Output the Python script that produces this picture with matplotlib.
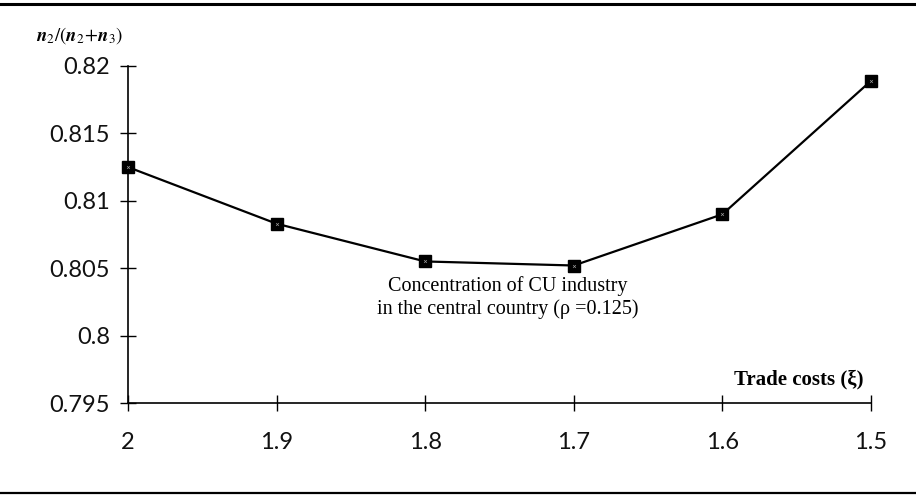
import matplotlib
matplotlib.use('Agg')
import matplotlib.pyplot as plt
from matplotlib.lines import Line2D

# Data
trade_costs = [2.0, 1.9, 1.8, 1.7, 1.6, 1.5]
share_n2 = [0.8125, 0.8083, 0.8055, 0.8052, 0.8090, 0.8189]
x_ticks = [2.0, 1.9, 1.8, 1.7, 1.6, 1.5]
x_tick_labels = ['2', '1.9', '1.8', '1.7', '1.6', '1.5']
y_ticks = [0.795, 0.8, 0.805, 0.81, 0.815, 0.82]
y_tick_labels = ['0.795', '0.8', '0.805', '0.81', '0.815', '0.82']

plt.rcParams['mathtext.fontset'] = 'stix'

fig = plt.figure(figsize=(9.16, 4.96), dpi=100)
ax = fig.add_axes([128 / 916, 1 - 403 / 496, (871 - 128) / 916, (403 - 66) / 496])

ax.plot(trade_costs, share_n2, color='black', linewidth=1.6, marker='s',
        markersize=8, markerfacecolor='black', markeredgecolor='black',
        zorder=3, clip_on=False)
# speckle inside the square markers
ax.plot(trade_costs, share_n2, linestyle='none', marker='x', markersize=2,
        markeredgecolor='#999999', markeredgewidth=0.5, zorder=4, clip_on=False)

ax.set_xlim(2.0, 1.5)
ax.set_ylim(0.795, 0.82)
ax.set_xticks(x_ticks)
ax.set_xticklabels(x_tick_labels)
ax.set_yticks(y_ticks)
ax.set_yticklabels(y_tick_labels)

for side in ('top', 'right'):
    ax.spines[side].set_visible(False)
for side in ('left', 'bottom'):
    ax.spines[side].set_linewidth(1.2)
    ax.spines[side].set_color('black')

ax.tick_params(axis='x', direction='inout', length=12, width=1.0, pad=15,
               labelsize=17, labelfontfamily='Lato', labelcolor='#111111')
ax.tick_params(axis='y', direction='inout', length=12, width=1.0, pad=7,
               labelsize=17, labelfontfamily='Lato', labelcolor='#111111')

# axis titles
fig.text(123 / 916, 1 - 36 / 496,
         r'$\mathbfit{n}_{2}/(\mathbfit{n}_{2}\!+\!\mathbfit{n}_{3})$',
         ha='right', va='center', fontsize=13.5)
ax.text(0.99, 0.071, 'Trade costs (ξ)', transform=ax.transAxes, ha='right',
        va='center', fontsize=15, fontweight='bold', family='Liberation Serif')

# annotation
ax.text(0.511, 0.313, 'Concentration of CU industry\nin the central country (ρ =0.125)',
        transform=ax.transAxes, ha='center', va='center', fontsize=14.5,
        family='Liberation Serif', linespacing=1.25)

# horizontal rules at top and bottom of the figure
fig.add_artist(Line2D([0, 1], [1 - 4 / 496, 1 - 4 / 496], transform=fig.transFigure,
                      color='black', linewidth=2.2))
fig.add_artist(Line2D([0, 1], [1 - 493 / 496, 1 - 493 / 496], transform=fig.transFigure,
                      color='black', linewidth=1.6))

fig.savefig('out.png', dpi=100, facecolor='white')
